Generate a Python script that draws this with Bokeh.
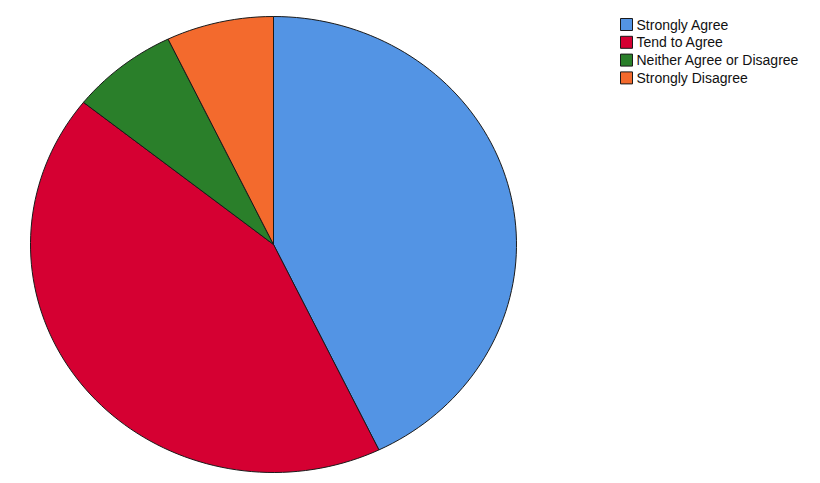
import math
from bokeh.plotting import figure
from bokeh.models import Range1d, ColumnDataSource
from bokeh.core.properties import value
from bokeh.embed import file_html
from bokeh.resources import INLINE

categories = ["Strongly Agree", "Tend to Agree", "Neither Agree or Disagree", "Strongly Disagree"]
counts = [6, 6, 1, 1]
colors = ["#5394E4", "#D50032", "#2A7F2A", "#F36A2D"]

W, H = 804, 478
p = figure(width=W, height=H, output_backend="svg", toolbar_location=None,
           x_range=Range1d(0, W), y_range=Range1d(H, 0),
           x_axis_location=None, y_axis_location=None, min_border=0,
           outline_line_color=None)
p.grid.visible = False

cx, cy, rx, ry = 273, 244, 243, 228
total = sum(counts)
xs, ys = [], []
start = 0.0
for c in counts:
    a0 = start / total * 2 * math.pi
    a1 = (start + c) / total * 2 * math.pi
    n = max(8, int(200 * c / total))
    px = [cx]
    py = [cy]
    for i in range(n + 1):
        t = a0 + (a1 - a0) * i / n
        px.append(cx + rx * math.sin(t))
        py.append(cy - ry * math.cos(t))
    xs.append(px)
    ys.append(py)
    start += c

p.patches(xs=xs, ys=ys, fill_color=colors, line_color="#1a1a1a", line_width=1)

# legend
lx, ly0, dy = 626, 24, 17.8
ys_leg = [ly0 + i * dy for i in range(len(categories))]
src = ColumnDataSource(dict(x=[lx] * len(categories), y=ys_leg, c=colors,
                            t=categories, tx=[lx + 10] * len(categories)))
p.rect(x="x", y="y", width=12, height=12, fill_color="c", line_color="#1a1a1a",
       line_width=1, source=src)
p.text(x="tx", y="y", text="t", source=src, text_font=value("Liberation Sans"),
       text_font_size="14px", text_baseline="middle", text_color="#111111")

open("out.html", "w").write(file_html(p, INLINE))
